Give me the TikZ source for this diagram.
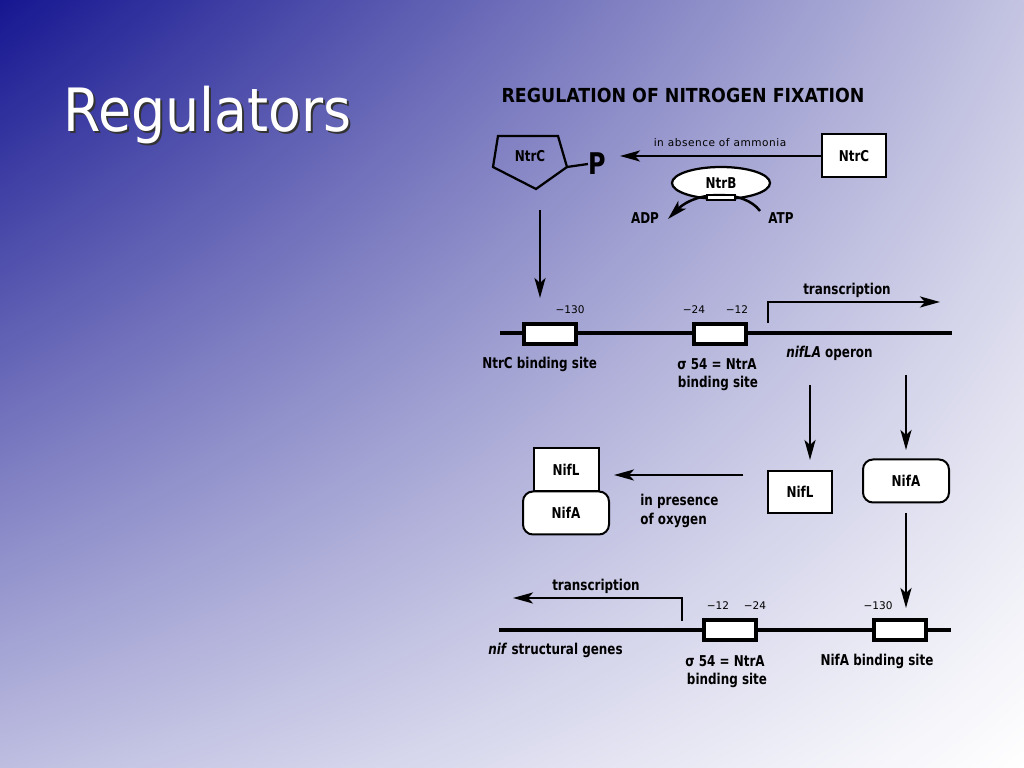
\documentclass[tikz,border=0pt]{standalone}
\usepackage{fontspec}
\setmainfont{DejaVu Sans}
\newfontfamily\dfont[FakeStretch=0.8]{DejaVu Sans}
\newfontfamily\tfont[FakeStretch=0.9]{DejaVu Sans}
\newfontfamily\spfont[LetterSpace=5]{DejaVu Sans}
\usetikzlibrary{shapes.geometric,arrows.meta,shadings}
\definecolor{bgUL}{RGB}{22,22,145}
\definecolor{bgUR}{RGB}{196,196,226}
\definecolor{bgLL}{RGB}{190,190,225}
\definecolor{bgLR}{RGB}{255,255,255}
\tikzset{
  lbl/.style={font=\dfont\bfseries\fontsize{8.5}{10}\selectfont, inner sep=0pt},
  num/.style={font=\fontsize{6}{7}\selectfont, inner sep=0pt},
  pbox/.style={draw, line width=0.4mm, fill=white, minimum width=64*0.2mm, minimum height=42*0.2mm, lbl},
  rbox/.style={pbox, rounded corners=2mm, minimum width=86*0.2mm, minimum height=43*0.2mm},
  site/.style={draw, line width=0.8mm, fill=white, minimum width=52*0.2mm, minimum height=20*0.2mm, inner sep=0pt},
  dna/.style={line width=0.8mm},
  arr/.style={line width=0.5mm, -{Stealth[length=4mm,width=2.2mm,inset=1mm]}},
  thin/.style={line width=0.45mm}
}
\begin{document}
\begin{tikzpicture}[x=0.2mm,y=-0.2mm]
\useasboundingbox (0,0) rectangle (1024,768);
\shade[upper left=bgUL, upper right=bgUR, lower left=bgLL, lower right=bgLR] (0,0) rectangle (1024,768);

% slide title
\node[font=\tfont\fontsize{34}{36}\selectfont, text=black!80, inner sep=0pt, anchor=base west] (ttlsh) at (65,134) {Regulators};
\node[font=\tfont\fontsize{34}{36}\selectfont, text=white, inner sep=0pt, anchor=base west] (ttl) at (63,132) {Regulators};

% diagram title
\node[font=\tfont\bfseries\fontsize{11}{13}\selectfont, inner sep=0pt] (head) at (683,95) {REGULATION OF NITROGEN FIXATION};

% phosphorylated NtrC pentagon
\coordinate (p1) at (498,136);
\coordinate (p2) at (558,136);
\coordinate (p3) at (567,167);
\coordinate (p4) at (536,189);
\coordinate (p5) at (493,167);
\draw[thin] (p1) -- (p2) -- (p3) -- (p4) -- (p5) -- cycle;
\node[lbl] (ntrcP) at (530,156) {NtrC};
\node[font=\dfont\bfseries\fontsize{17}{18}\selectfont, inner sep=0pt] (P) at (597,164) {P};
\draw[thin] (p3) -- (P.west);

% NtrC box and phosphorylation arrow
\node[pbox, minimum height=43*0.2mm] (ntrc) at (854,156) {NtrC};
\coordinate (aP) at (620,156);
\draw[arr] (ntrc.west) -- (aP);
\node[font=\spfont\fontsize{6}{7}\selectfont, inner sep=0pt] (absn) at (720,143) {in absence of ammonia};

% NtrB
\node[draw, thin, fill=white, ellipse, minimum width=98*0.2mm, minimum height=32*0.2mm, inner sep=0pt, lbl] (ntrb) at (721,183) {NtrB};
\coordinate (atpS) at (760,211);
\coordinate (adpT) at (668,219);
\draw[arr] (atpS) .. controls (745,190) and (697,190) .. (adpT);
\draw[thin, fill=white] (707,195) rectangle (735,200);
\node[lbl] (adp) at (645,218) {ADP};
\node[lbl] (atp) at (781,218) {ATP};

% arrow to NtrC binding site
\coordinate (d1s) at (540,210);
\coordinate (d1e) at (540,298);
\draw[arr] (d1s) -- (d1e);

% top DNA
\coordinate (dnaA1) at (500,333);
\coordinate (dnaA2) at (952,333);
\draw[dna] (dnaA1) -- (dnaA2);
\node[site] (s1) at (550,334) {};
\node[site] (s2) at (720,334) {};
\node[num] (n130a) at (570,310) {−130};
\node[num] (n24a) at (694,310) {−24};
\node[num] (n12a) at (737,310) {−12};
\coordinate (tr1s) at (768,323);
\coordinate (tr1e) at (940,302);
\draw[arr] (tr1s) |- (tr1e);
\node[lbl] (trA) at (847,290) {transcription};
\node[lbl, anchor=west] (ntrcsite) at (482,364) {NtrC binding site};
\node[lbl] (sigA1) at (717,364) {σ 54 = NtrA};
\node[lbl] (sigA2) at (718,383) {binding site};
\node[lbl, anchor=west] (operon) at (786,353) {\textit{nifLA} operon};

% arrows to NifL and NifA
\coordinate (d2s) at (810,385);
\coordinate (d2e) at (810,460);
\draw[arr] (d2s) -- (d2e);
\coordinate (d3s) at (906,375);
\coordinate (d3e) at (906,450);
\draw[arr] (d3s) -- (d3e);

% NifL and NifA
\node[pbox] (nifl) at (800,492) {NifL};
\node[rbox] (nifa) at (906,481) {NifA};

% complex
\node[rbox] (cnifa) at (566,513) {NifA};
\node[pbox, minimum width=65*0.2mm, minimum height=43*0.2mm] (cnifl) at (566,470) {NifL};
\coordinate (oxS) at (743,475);
\coordinate (oxE) at (614,475);
\draw[arr] (oxS) -- (oxE);
\node[lbl, anchor=west] (ox1) at (640,501) {in presence};
\node[lbl, anchor=west] (ox2) at (640,520) {of oxygen};

% NifA to its binding site
\coordinate (d4s) at (906,513);
\coordinate (d4e) at (906,608);
\draw[arr] (d4s) -- (d4e);

% bottom DNA
\coordinate (dnaB1) at (499,630);
\coordinate (dnaB2) at (951,630);
\draw[dna] (dnaB1) -- (dnaB2);
\node[site] (s3) at (730,630) {};
\node[site] (s4) at (900,630) {};
\node[num] (n12b) at (718,606) {−12};
\node[num] (n24b) at (755,606) {−24};
\node[num] (n130b) at (878,606) {−130};
\coordinate (tr2s) at (682,621);
\coordinate (tr2e) at (513,598);
\draw[arr] (tr2s) |- (tr2e);
\node[lbl] (trB) at (596,586) {transcription};
\node[lbl, anchor=west] (struct) at (488,650) {\textit{nif} structural genes};
\node[lbl] (sigB1) at (725,661) {σ 54 = NtrA};
\node[lbl] (sigB2) at (727,680) {binding site};
\node[lbl] (nifasite) at (877,661) {NifA binding site};
\end{tikzpicture}
\end{document}
